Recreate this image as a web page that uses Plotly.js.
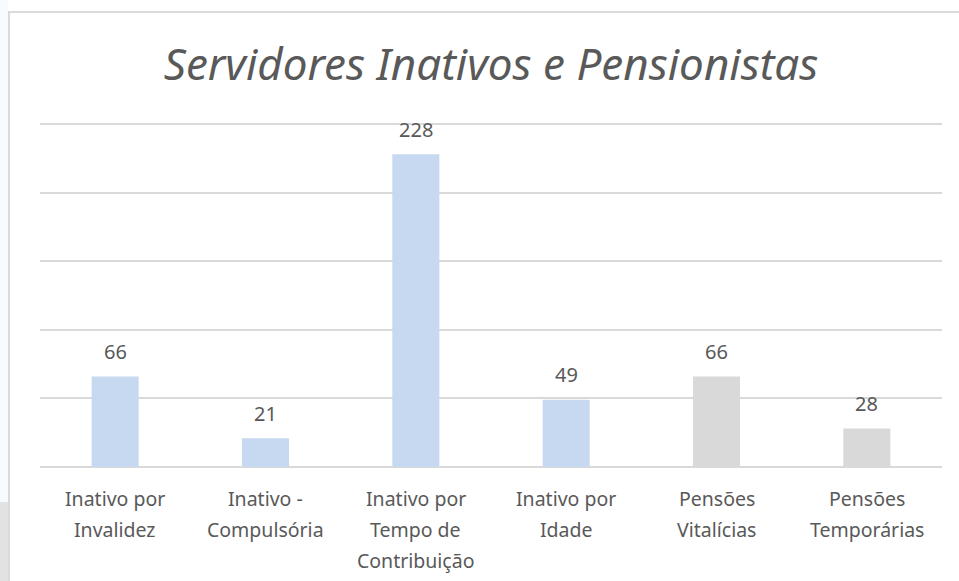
<!DOCTYPE html>
<html>
<head>
<meta charset="utf-8">
<script src="https://cdn.plot.ly/plotly-3.0.1.min.js"></script>
<style>
  html, body { margin: 0; padding: 0; background: #ffffff; overflow: hidden; }
  #wrap { position: relative; width: 959px; height: 581px; }
  #chart { position: absolute; left: 0; top: 0; width: 959px; height: 581px; }
  #frame { position: absolute; left: 8px; top: 11px; width: 960px; height: 580px;
           border-left: 2px solid #d9d9d9; border-top: 2px solid #d9d9d9; pointer-events: none; }
  #side { position: absolute; left: 0; top: 502px; width: 8px; height: 79px; background: #e2e2e2; }
  #sidetop { position: absolute; left: 0; top: 0; width: 8px; height: 502px; background: #f8fbfd; }
</style>
</head>
<body>
<div id="wrap">
  <div id="chart"></div>
  <div id="sidetop"></div>
  <div id="side"></div>
  <div id="frame"></div>
</div>
<script>
var categories = ["Inativo por Invalidez", "Inativo - Compulsória", "Inativo por Tempo de Contribuição",
                  "Inativo por Idade", "Pensões Vitalícias", "Pensões Temporárias"];
var labelLines = [["Inativo por", "Invalidez"], ["Inativo -", "Compulsória"],
                  ["Inativo por", "Tempo de", "Contribuição"], ["Inativo por", "Idade"],
                  ["Pensões", "Vitalícias"], ["Pensões", "Temporárias"]];
var values = [66, 21, 228, 49, 66, 28];
var barColors = ["#c6d9f0", "#c6d9f0", "#c6d9f0", "#c6d9f0", "#d9d9d9", "#d9d9d9"];

var textColor = "#595959";
var fontFam = "'Noto Sans', 'Open Sans', sans-serif";

var annotations = [];
categories.forEach(function (c, i) {
  annotations.push({
    x: c, y: values[i], xref: "x", yref: "y",
    text: String(values[i]), showarrow: false,
    yanchor: "middle", yshift: 25,
    font: { family: fontFam, size: 20, color: textColor }
  });
  labelLines[i].forEach(function (line, j) {
    annotations.push({
      x: c, y: 0, xref: "x", yref: "paper",
      text: line, showarrow: false,
      yanchor: "middle", yshift: -31 - 31 * j,
      font: { family: fontFam, size: 19.5, color: textColor }
    });
  });
});

var trace = {
  type: "bar",
  x: categories,
  y: values,
  marker: { color: barColors, line: { width: 0 } },
  hoverinfo: "none"
};

var layout = {
  width: 959, height: 581,
  margin: { l: 40, r: 17, t: 120, b: 114 },
  paper_bgcolor: "rgba(0,0,0,0)",
  plot_bgcolor: "rgba(0,0,0,0)",
  title: {
    text: "<i>Servidores Inativos e Pensionistas</i>",
    x: 0.5, xref: "paper", xanchor: "center",
    y: 1 - 65 / 581, yref: "container", yanchor: "middle",
    font: { family: fontFam, size: 44, color: textColor }
  },
  bargap: 0.687,
  showlegend: false,
  xaxis: {
    type: "category",
    showticklabels: false, ticks: "",
    showgrid: false, zeroline: false, showline: false,
    fixedrange: true
  },
  yaxis: {
    range: [0, 253],
    dtick: 50, tick0: 0,
    showticklabels: false, ticks: "",
    showgrid: true, gridcolor: "#d9d9d9", gridwidth: 2,
    zeroline: true, zerolinecolor: "#d9d9d9", zerolinewidth: 2,
    showline: false, fixedrange: true
  },
  annotations: annotations
};

Plotly.newPlot("chart", [trace], layout, { displayModeBar: false, staticPlot: true });
</script>
</body>
</html>
